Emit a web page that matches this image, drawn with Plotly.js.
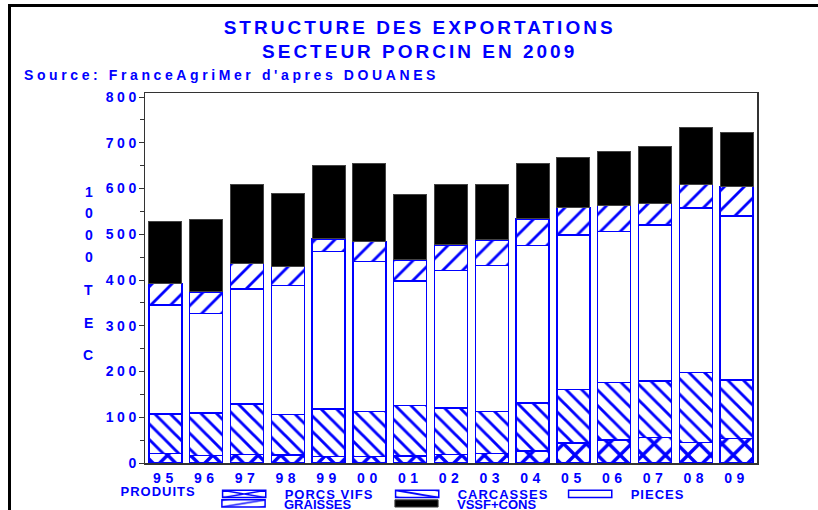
<!DOCTYPE html>
<html><head><meta charset="utf-8">
<script src="https://cdn.plot.ly/plotly-3.0.1.min.js"></script>
<style>
body{margin:0;padding:0;background:#fff;}
#wrap{position:relative;width:818px;height:510px;overflow:hidden;}
#chart{width:818px;height:510px;}
#frame{position:absolute;left:8px;top:4px;width:830px;height:530px;border-top:3px solid #000;border-left:3px solid #000;pointer-events:none;}
.gtitle{letter-spacing:3px;}
.annotation-text{letter-spacing:3.6px;}
.ytick text{letter-spacing:3.5px;}
.xtick text{letter-spacing:4.5px;}
.legendtext,.legendtitletext{letter-spacing:1px;}
.legendpoints path{vector-effect:non-scaling-stroke;}
</style>
</head><body>
<div id="wrap"><div id="chart"></div><div id="frame"></div></div>
<script>
// ---- data (1000 TEC) ----
var years = ['95','96','97','98','99','00','01','02','03','04','05','06','07','08','09'];
var porcsVifs = [21,16,19,17,14,14,15,19,21,26,44,50,56,45,54];
var carcasses = [86,93,110,89,104,99,111,101,92,105,117,126,123,153,128];
var pieces    = [239,218,252,282,344,328,272,301,319,345,338,330,341,360,358];
var graisses  = [47,47,56,42,28,43,46,56,56,58,60,57,48,51,65];
var vssfCons  = [135,158,172,159,161,171,144,131,122,120,108,118,124,124,117];
var yTicks = [0,100,200,300,400,500,600,700,800];

var BLUE = '#0000FF';
var FONT = 'Liberation Sans, Arial, sans-serif';

function patBar(name, vals, shape, size, sol, leg){
  return {type:'bar', name:name, x:years, y:vals, legend:leg,
    marker:{color:'#ffffff', line:{color:BLUE, width:1.5},
      pattern:{shape:shape, size:size, solidity:sol, fgcolor:BLUE, bgcolor:'#ffffff', fillmode:'replace'}}};
}
var traces = [
  patBar('PORCS VIFS', porcsVifs, 'x', 16, 0.38, 'legend'),
  patBar('CARCASSES', carcasses, '\\', 11, 0.26, 'legend'),
  {type:'bar', name:'PIECES', x:years, y:pieces, legend:'legend',
    marker:{color:'#ffffff', line:{color:BLUE, width:1.5}}},
  patBar('GRAISSES', graisses, '/', 14, 0.2, 'legend2'),
  {type:'bar', name:'VSSF+CONS', x:years, y:vssfCons, legend:'legend2',
    marker:{color:'#000000', line:{color:'#444444', width:1}}}
];

var L=145, T=93, W=612, H=370;
function px2x(p){return (p-L)/W;}
function px2y(p){return (T+H-p)/H;}

var annotations = [
  {text:'Source: FranceAgriMer d\'apres DOUANES', xref:'paper', yref:'paper',
   x:px2x(22), y:px2y(75), xanchor:'left', yanchor:'middle', showarrow:false,
   font:{family:FONT, size:14, color:BLUE, weight:700}}
];
var yTitleChars = ['1','0','0','0','T','E','C'];
var yTitlePix = [191.5,213,235,257,290,322.5,355];
yTitleChars.forEach(function(c,i){
  annotations.push({text:c, xref:'paper', yref:'paper', x:px2x(90), y:px2y(yTitlePix[i]),
    xanchor:'center', yanchor:'middle', showarrow:false,
    font:{family:FONT, size:14, color:BLUE, weight:700}});
});

var legFont = {family:FONT, size:13, color:BLUE, weight:700};
var layout = {
  width:818, height:510,
  margin:{l:L, r:818-L-W, t:T, b:510-T-H, autoexpand:false},
  paper_bgcolor:'#ffffff', plot_bgcolor:'#ffffff',
  barmode:'stack', bargap:0.19,
  title:{text:'STRUCTURE DES EXPORTATIONS<br>SECTEUR PORCIN EN 2009',
    x:0.513, xref:'container', xanchor:'center', y:0.934, yref:'container', yanchor:'top',
    font:{family:FONT, size:19, color:BLUE, weight:700}},
  xaxis:{type:'category', range:[-0.5,14.5], showgrid:false, zeroline:false,
    showline:true, linecolor:'#333333', linewidth:1.5, mirror:true, ticks:'', ticklabelstandoff:2,
    tickfont:{family:FONT, size:14, color:BLUE, weight:700}},
  yaxis:{range:[0,809], tickvals:yTicks, showgrid:false, zeroline:false,
    showline:true, linecolor:'#333333', linewidth:1.5, mirror:true,
    ticks:'outside', ticklen:5, tickcolor:'#333333', tickwidth:1, ticklabelstandoff:-4,
    minor:{dtick:50, ticks:'outside', ticklen:4, tickcolor:'#333333'},
    tickfont:{family:FONT, size:14, color:BLUE, weight:700}},
  showlegend:true,
  legend:{orientation:'h', x:px2x(118.5), y:px2y(494), xanchor:'left', yanchor:'middle',
    bgcolor:'rgba(0,0,0,0)', font:legFont, itemwidth:71, entrywidth:87, traceorder:'normal',
    title:{text:'PRODUITS', side:'left', font:legFont}},
  legend2:{orientation:'h', x:px2x(203), y:px2y(503.5), xanchor:'left', yanchor:'middle',
    bgcolor:'rgba(0,0,0,0)', font:legFont, itemwidth:71, entrywidth:87, traceorder:'normal'},
  annotations:annotations
};

Plotly.newPlot('chart', traces, layout, {staticPlot:true}).then(function(){
  document.querySelectorAll('.legendpoints path').forEach(function(p){
    var t = p.getAttribute('transform') || '';
    p.setAttribute('transform', t + ' scale(3.6,0.6)');
  });
});
</script>
</body></html>
